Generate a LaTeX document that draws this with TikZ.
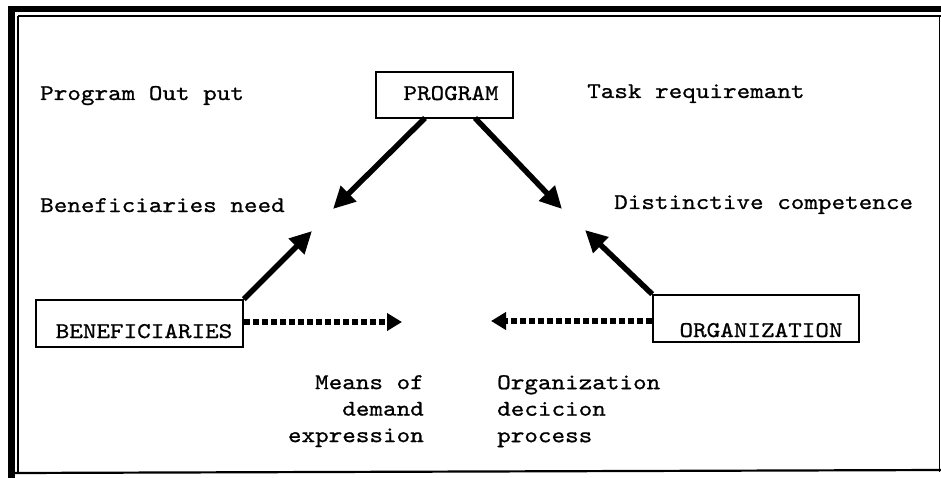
\documentclass[tikz,border=0pt]{standalone}
\usepackage{fontspec}
\newfontfamily\cour[FakeStretch=1.15,FakeBold=0.8]{lmmono10-regular.otf}
\usetikzlibrary{arrows.meta}
\begin{document}
\begin{tikzpicture}[x=1pt,y=-1pt,
  lbl/.style={font=\cour\fontsize{22.5}{26.5}\selectfont,inner sep=0pt},
  boxnode/.style={draw,line width=1.6pt,inner sep=0pt},
  bigarrow/.style={line width=5.5pt,-{Triangle[length=22pt,width=21pt]}},
  dotarrow/.style={line width=6pt,dash pattern=on 6pt off 3pt,-{Triangle[length=15pt,width=17pt]}}]
\useasboundingbox (0,0) rectangle (941,478);
\fill[white] (0,0) rectangle (941,478);
% frame
\draw[line width=6pt] (8,9) -- (941,9);
\draw[line width=7pt] (11,6) -- (11,478);
\draw[line width=1.5pt] (18,16) -- (941,16);
\draw[line width=1.5pt] (18,16) -- (18,472);
\draw[line width=1.5pt] (939.5,16) -- (939.5,472);
\draw[line width=2.2pt] (14,473) -- (941,470);
% boxes
\node[boxnode,minimum width=137pt,minimum height=46pt] (prog) at (444.5,95) {};
\node[lbl,anchor=base] (progt) at (451,100) {PROGRAM};
\node[boxnode,minimum width=207pt,minimum height=47pt] (ben) at (139.5,323.5) {};
\node[lbl,anchor=base] (bent) at (144,338) {BENEFICIARIES};
\node[boxnode,minimum width=206pt,minimum height=47pt] (org) at (756,318.5) {};
\node[lbl,anchor=base] (orgt) at (761,337) {ORGANIZATION};
% labels
\node[lbl,anchor=base west] (pout) at (40,100) {Program Out put};
\node[lbl,anchor=base west] (task) at (587,98) {Task requiremant};
\node[lbl,anchor=base west] (bneed) at (40,212) {Beneficiaries need};
\node[lbl,anchor=base west] (dcomp) at (614,209) {Distinctive competence};
\node[lbl,anchor=north east,align=right] (means) at (424,375) {Means of\\demand\\expression};
\node[lbl,anchor=north west,align=left] (odec) at (497,375) {Organization\\decicion\\process};
% arrow tips
\coordinate (t1) at (333,209);
\coordinate (t2) at (562,209);
\coordinate (t3) at (312,231);
\coordinate (t4) at (585,230);
\coordinate (t5) at (402,322);
\coordinate (t6) at (491,321);
\coordinate (s1) at (425,118);
\coordinate (s2) at (475,118);
\draw[bigarrow] (s1) -- (t1);
\draw[bigarrow] (s2) -- (t2);
\draw[bigarrow] (ben.north east) -- (t3);
\draw[bigarrow] (org.north west) -- (t4);
\draw[dotarrow] (ben.east |- t5) -- (t5);
\draw[dotarrow] (org.west |- t6) -- (t6);
\end{tikzpicture}
\end{document}
